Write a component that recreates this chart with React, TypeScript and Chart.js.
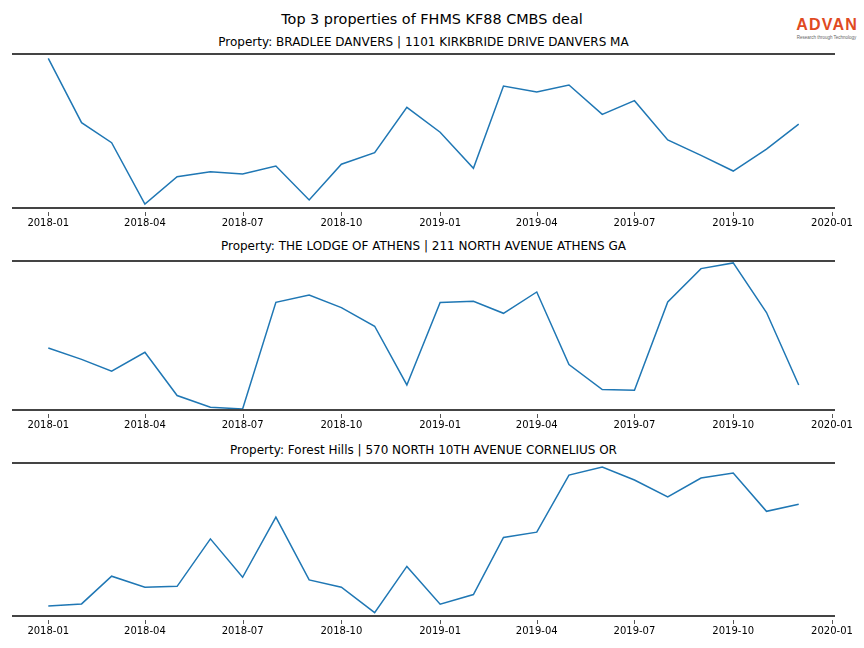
import React, { useEffect, useRef } from "react";
import { Chart, registerables } from "chart.js";

Chart.register(...registerables);

const FONT = "'DejaVu Sans', sans-serif";

const months = [
  "2018-01", "2018-02", "2018-03", "2018-04", "2018-05", "2018-06",
  "2018-07", "2018-08", "2018-09", "2018-10", "2018-11", "2018-12",
  "2019-01", "2019-02", "2019-03", "2019-04", "2019-05", "2019-06",
  "2019-07", "2019-08", "2019-09", "2019-10", "2019-11", "2019-12",
];

const tickLabels = [
  "2018-01", "2018-04", "2018-07", "2018-10", "2019-01",
  "2019-04", "2019-07", "2019-10", "2020-01",
];

const mainTitle = "Top 3 properties of FHMS KF88 CMBS deal";

const titles = [
  "Property: BRADLEE DANVERS | 1101 KIRKBRIDE DRIVE DANVERS MA",
  "Property: THE LODGE OF ATHENS | 211 NORTH AVENUE ATHENS GA",
  "Property: Forest Hills | 570 NORTH 10TH AVENUE CORNELIUS OR",
];

const bradlee = [
  97.2, 55.4, 42.4, 2.6, 20.3, 23.6, 22.1, 27.3, 5.2, 28.4, 35.9, 65.4,
  49.2, 25.8, 79.2, 75.3, 79.9, 60.8, 69.7, 44.2, 34.2, 24.0, 38.3, 54.5,
];

const athens = [
  41.6, 34.0, 26.0, 38.7, 9.7, 1.8, 0.7, 72.3, 77.2, 68.7, 56.2, 16.8,
  72.1, 73.0, 64.9, 79.2, 30.5, 13.7, 13.2, 72.5, 94.9, 98.7, 65.4, 16.8,
];

const forestHills = [
  6.5, 7.9, 26.0, 18.8, 19.4, 50.4, 25.3, 64.6, 23.6, 18.8, 2.2, 32.4,
  7.7, 14.0, 51.3, 54.8, 92.1, 97.4, 88.9, 77.9, 90.2, 93.5, 68.4, 73.0,
];

const seriesList = [bradlee, athens, forestHills];

const DAY = 86400000;
const EPOCH = Date.UTC(2018, 0, 1);
function monthToDays(s: string): number {
  const [y, m] = s.split("-").map(Number);
  return (Date.UTC(y, m - 1, 1) - EPOCH) / DAY;
}

// layout of each panel: spine top/bottom (page px)
const panels = [
  { top: 54, bottom: 208, titleTop: 35 },
  { top: 261, bottom: 410, titleTop: 239 },
  { top: 463, bottom: 616, titleTop: 443 },
];

const PAD_TOP = 4;
const AXIS_H = 30;

const spinePlugin = {
  id: "spines",
  afterDraw(chart: any) {
    const { ctx, chartArea } = chart;
    const xs = chart.scales.x;
    ctx.save();
    ctx.strokeStyle = "#555";
    ctx.lineWidth = 1;
    for (const t of xs.ticks) {
      const px = Math.round(xs.getPixelForValue(t.value)) + 0.5;
      ctx.beginPath();
      ctx.moveTo(px, chartArea.bottom + 4);
      ctx.lineTo(px, chartArea.bottom + 8);
      ctx.stroke();
    }
    ctx.strokeStyle = "#444";
    ctx.lineWidth = 2;
    ctx.beginPath();
    ctx.moveTo(chartArea.left, chartArea.top);
    ctx.lineTo(chartArea.right, chartArea.top);
    ctx.moveTo(chartArea.left, chartArea.bottom);
    ctx.lineTo(chartArea.right, chartArea.bottom);
    ctx.stroke();
    ctx.restore();
  },
};

function Panel({ idx }: { idx: number }) {
  const ref = useRef<HTMLCanvasElement | null>(null);
  const p = panels[idx];
  const H = PAD_TOP + (p.bottom - p.top) + AXIS_H;
  useEffect(() => {
    if (!ref.current) return;
    const values = seriesList[idx];
    const data = months.map((m, i) => ({ x: monthToDays(m), y: values[i] }));
    const tickVals = tickLabels.map(monthToDays);
    const chart = new Chart(ref.current, {
      type: "line",
      data: {
        datasets: [
          {
            data,
            borderColor: "#1f77b4",
            borderWidth: 1.5,
            pointRadius: 0,
            tension: 0,
            fill: false,
          },
        ],
      },
      options: {
        animation: false,
        responsive: false,
        devicePixelRatio: 1,
        layout: { padding: { left: 12, right: 29, top: PAD_TOP, bottom: 0 } },
        plugins: {
          legend: { display: false },
          tooltip: { enabled: false },
          title: { display: false },
        },
        scales: {
          x: {
            type: "linear",
            min: -33.8,
            max: 732.8,
            grid: { display: false, drawTicks: false },
            border: { display: false },
            afterBuildTicks: (s: any) => {
              s.ticks = tickVals.map((v) => ({ value: v }));
            },
            afterFit: (s: any) => {
              s.height = AXIS_H;
            },
            ticks: {
              autoSkip: false,
              maxRotation: 0,
              minRotation: 0,
              padding: 9,
              color: "#000",
              font: { family: FONT, size: 10 },
              callback: (_v: any, i: number) => tickLabels[i],
            },
          },
          y: { display: false, min: 0, max: 100 },
        },
      },
      plugins: [spinePlugin],
    } as any);
    return () => chart.destroy();
  }, [idx]);
  return (
    <>
      <div
        style={{
          position: "absolute",
          left: 12,
          width: 823,
          top: p.titleTop,
          textAlign: "center",
          fontFamily: FONT,
          fontSize: 12,
          lineHeight: "14px",
          color: "#000",
          whiteSpace: "nowrap",
        }}
      >
        {titles[idx]}
      </div>
      <canvas
        ref={ref}
        width={864}
        height={H}
        style={{ position: "absolute", left: 0, top: p.top - PAD_TOP, width: 864, height: H }}
      />
    </>
  );
}

export default function App() {
  return (
    <div
      style={{
        position: "absolute",
        left: 0,
        top: 0,
        width: 864,
        height: 648,
        background: "#fff",
        overflow: "hidden",
      }}
    >
      <div
        style={{
          position: "absolute",
          left: 0,
          width: 864,
          top: 11,
          textAlign: "center",
          fontFamily: FONT,
          fontSize: 14.4,
          lineHeight: "16px",
          color: "#000",
        }}
      >
        {mainTitle}
      </div>
      <div
        style={{
          position: "absolute",
          left: 795,
          top: 17,
          width: 63,
          textAlign: "center",
          fontFamily: "'Liberation Sans', Arial, sans-serif",
        }}
      >
        <div
          style={{
            color: "#e04a22",
            fontSize: 16,
            fontWeight: 700,
            lineHeight: "16px",
            letterSpacing: 1.2,
            marginRight: -1.2,
          }}
        >
          ADVAN
        </div>
        <div
          style={{
            color: "#666",
            fontSize: 4.5,
            lineHeight: "5px",
            whiteSpace: "nowrap",
            marginTop: 1.5,
          }}
        >
          Research through Technology
        </div>
      </div>
      {panels.map((_, i) => (
        <Panel key={i} idx={i} />
      ))}
    </div>
  );
}
